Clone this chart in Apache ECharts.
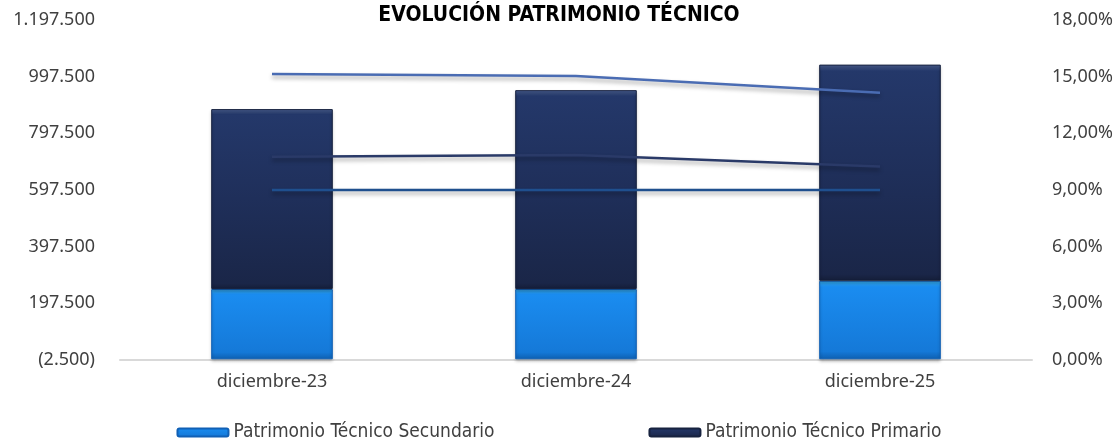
<!DOCTYPE html>
<html>
<head>
<meta charset="utf-8">
<script src="https://cdn.jsdelivr.net/npm/echarts@6/dist/echarts.min.js"></script>
<style>
  html, body { margin: 0; padding: 0; background: #fff; }
  #chart { width: 1118px; height: 441px; }
</style>
</head>
<body>
<div id="chart"></div>
<script>
// data
var categories = ['diciembre-23', 'diciembre-24', 'diciembre-25'];
var secundario = [248000, 248000, 277000];
var primario = [635000, 702000, 763000];
var ratioTop = [15.14, 15.04, 14.15];
var ratioMid = [10.76, 10.85, 10.24];
var ratioMin = [9.0, 9.0, 9.0];

function fmtMiles(v) {
    var s = Math.abs(v).toFixed(0).replace(/\B(?=(\d{3})+(?!\d))/g, '.');
    return v < 0 ? '(' + s + ')' : s;
}

var chart = echarts.init(document.getElementById('chart'), null, { renderer: 'canvas' });

var lineShadow = {
    shadowColor: 'rgba(0,0,0,0.35)',
    shadowBlur: 4,
    shadowOffsetY: 3
};
var narrow = "'DejaVu Sans Condensed', 'DejaVu Sans', sans-serif";

chart.setOption({
    backgroundColor: '#ffffff',
    animation: false,
    title: {
        text: 'EVOLUCIÓN PATRIMONIO TÉCNICO',
        left: 'center',
        top: 0,
        textStyle: {
            fontFamily: narrow,
            fontSize: 21,
            fontWeight: 'bold',
            color: '#000'
        }
    },
    legend: {
        top: 423,
        left: 'center',
        padding: 0,
        itemGap: 154,
        itemWidth: 51,
        itemHeight: 8,
        data: ['Patrimonio Técnico Secundario', 'Patrimonio Técnico Primario'],
        textStyle: {
            fontFamily: narrow,
            fontSize: 19,
            color: '#404040'
        }
    },
    grid: { left: 120, right: 86, top: 20, bottom: 81 },
    xAxis: {
        type: 'category',
        data: categories,
        axisLine: { lineStyle: { color: '#d9d9d9', width: 2 } },
        axisTick: { show: false },
        axisLabel: {
            fontFamily: 'Noto Sans',
            fontSize: 18,
            color: '#404040',
            margin: 13
        }
    },
    yAxis: [{
        type: 'value',
        min: -2500,
        max: 1197500,
        interval: 200000,
        splitLine: { show: false },
        axisLine: { show: false },
        axisLabel: {
            fontFamily: 'Noto Sans',
            fontSize: 18,
            color: '#404040',
            margin: 25,
            formatter: fmtMiles
        }
    }, {
        type: 'value',
        min: 0,
        max: 18,
        interval: 3,
        splitLine: { show: false },
        axisLine: { show: false },
        axisLabel: {
            fontFamily: 'Noto Sans',
            fontSize: 18,
            color: '#404040',
            margin: 20,
            formatter: function (v) { return v.toFixed(2).replace('.', ',') + '%'; }
        }
    }],
    series: [{
        name: 'Patrimonio Técnico Secundario',
        type: 'bar',
        stack: 'pt',
        barWidth: '40%',
        data: secundario,
        itemStyle: {
            color: new echarts.graphic.LinearGradient(0, 0, 0, 1, [
                { offset: 0, color: '#38b4fa' },
                { offset: 0.08, color: '#1a8cf0' },
                { offset: 0.9, color: '#1579d8' },
                { offset: 1, color: '#0e5fb0' }
            ]),
            borderColor: '#1160b5',
            borderWidth: 1,
            shadowColor: 'rgba(0,0,0,0.25)',
            shadowBlur: 3,
            shadowOffsetY: 2
        }
    }, {
        name: 'Patrimonio Técnico Primario',
        type: 'bar',
        stack: 'pt',
        data: primario,
        itemStyle: {
            color: new echarts.graphic.LinearGradient(0, 0, 0, 1, [
                { offset: 0, color: '#4a5f8f' },
                { offset: 0.03, color: '#24386a' },
                { offset: 0.5, color: '#1f2f5a' },
                { offset: 0.97, color: '#1a2648' },
                { offset: 1, color: '#141d38' }
            ]),
            borderColor: '#17223f',
            borderWidth: 1,
            shadowColor: 'rgba(0,0,0,0.25)',
            shadowBlur: 3,
            shadowOffsetY: 2
        }
    }, {
        name: 'Indicador 1',
        type: 'line',
        yAxisIndex: 1,
        data: ratioTop,
        symbol: 'none',
        lineStyle: Object.assign({ color: '#4a6cb3', width: 2.5 }, lineShadow),
        z: 5
    }, {
        name: 'Indicador 2',
        type: 'line',
        yAxisIndex: 1,
        data: ratioMid,
        symbol: 'none',
        lineStyle: Object.assign({ color: '#2a3a68', width: 2.5 }, lineShadow),
        z: 5
    }, {
        name: 'Minimo',
        type: 'line',
        yAxisIndex: 1,
        data: ratioMin,
        symbol: 'none',
        lineStyle: Object.assign({ color: '#1f4f8e', width: 2.5 }, lineShadow),
        z: 5
    }]
});
</script>
</body>
</html>
